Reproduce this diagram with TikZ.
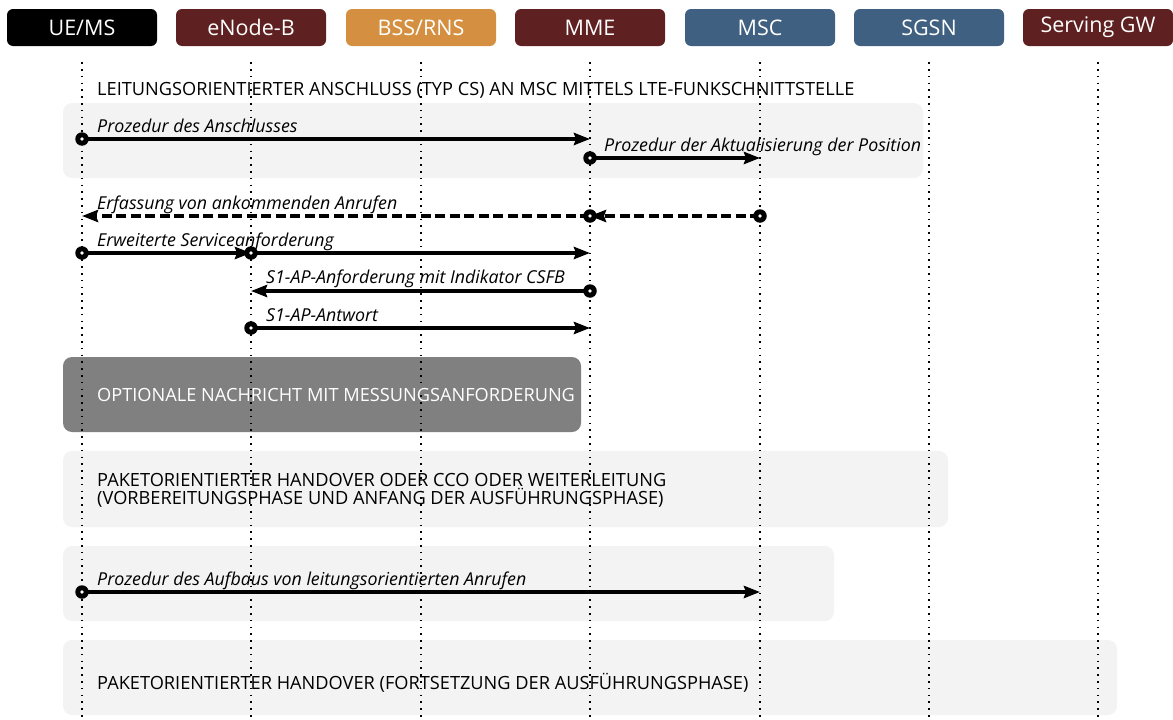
\documentclass[tikz,border=0pt]{standalone}
\usepackage{fontspec}
\setmainfont{Open Sans}
\usetikzlibrary{arrows.meta}
\definecolor{hdrblack}{RGB}{0,0,0}
\definecolor{hdrred}{RGB}{94,32,32}
\definecolor{hdrorange}{RGB}{212,144,64}
\definecolor{hdrblue}{RGB}{63,96,128}
\definecolor{panellight}{RGB}{243,243,243}
\definecolor{paneldark}{RGB}{128,128,128}
\tikzset{
  hdr/.style={draw=none, rounded corners=6pt, minimum width=150pt, minimum height=37pt,
    inner sep=0pt, text=white, font=\fontsize{21.5}{24}\selectfont},
  panel/.style={fill=panellight, rounded corners=9pt},
  darkpanel/.style={fill=paneldark, rounded corners=9pt},
  lifeline/.style={line width=1.6pt, dash pattern=on 1.6pt off 5.2pt, black},
  msg/.style={line width=3.8pt, -{Stealth[length=16pt,width=12pt,inset=2pt]}},
  dmsg/.style={msg, dash pattern=on 10pt off 4.5pt},
  lbl/.style={anchor=base west, inner sep=0pt, font=\fontsize{17.8}{20}\selectfont\itshape},
  caps/.style={anchor=base west, inner sep=0pt, font=\fontsize{18.2}{21}\selectfont, align=left},
  startdot/.style={circle, fill=black, minimum size=13.5pt, inner sep=0pt,
    path picture={\fill[white] (path picture bounding box.center) circle (1.9pt);}}
}
\begin{document}
\begin{tikzpicture}[x=1pt,y=-1pt]
\useasboundingbox (0,0) rectangle (1173,720);
% headers
\node[hdr, fill=hdrblack]  (ue)  at (82,27.5)   {UE/MS};
\node[hdr, fill=hdrred]    (enb) at (251,27.5)  {eNode-B};
\node[hdr, fill=hdrorange] (bss) at (421,27.5)  {BSS/RNS};
\node[hdr, fill=hdrred]    (mme) at (590,27.5)  {MME};
\node[hdr, fill=hdrblue]   (msc) at (760,27.5)  {MSC};
\node[hdr, fill=hdrblue]   (sgsn) at (929,27.5) {SGSN};
\node[hdr, fill=hdrred]    (sgw) at (1098,27.5) {Serving GW};
% panels
\fill[panel] (63,103) rectangle (923,178);
\fill[darkpanel] (63,357) rectangle (581,432);
\fill[panel] (63,451) rectangle (948,527);
\fill[panel] (63,546) rectangle (834,621);
\fill[panel] (63,640) rectangle (1117,715);
% lifelines
\foreach \n in {ue,enb,bss,mme,msc,sgsn,sgw}{
  \coordinate (\n-top) at ([yshift=-16pt]\n.south);
  \coordinate (\n-bot) at (\n.south |- 0,720);
  \draw[lifeline] (\n-top) -- (\n-bot);
}
% message anchor coordinates
\foreach \n in {ue,enb,mme,msc}{
  \coordinate (\n-a) at (\n |- 0,139);
  \coordinate (\n-b) at (\n |- 0,158);
  \coordinate (\n-c) at (\n |- 0,216);
  \coordinate (\n-d) at (\n |- 0,253);
  \coordinate (\n-e) at (\n |- 0,291);
  \coordinate (\n-f) at (\n |- 0,328);
  \coordinate (\n-g) at (\n |- 0,592);
}
% texts
\node[caps] (t1) at (97,95.5) {LEITUNGSORIENTIERTER ANSCHLUSS (TYP CS) AN MSC MITTELS LTE-FUNKSCHNITTSTELLE};
\node[caps, text=white] (t2) at (97,401.5) {OPTIONALE NACHRICHT MIT MESSUNGSANFORDERUNG};
\node[caps] (t3) at (97,486.5) {PAKETORIENTIERTER HANDOVER ODER CCO ODER WEITERLEITUNG};
\node[caps] (t4) at (97,504.5) {(VORBEREITUNGSPHASE UND ANFANG DER AUSFÜHRUNGSPHASE)};
\node[caps] (t5) at (97,689.5) {PAKETORIENTIERTER HANDOVER (FORTSETZUNG DER AUSFÜHRUNGSPHASE)};
% messages
\draw[msg] (ue-a) -- (mme-a);
\node[startdot] (s1) at (ue-a) {};
\node[lbl] (l1) at (97,132.5) {Prozedur des Anschlusses};

\draw[msg] (mme-b) -- (msc-b);
\node[startdot] (s2) at (mme-b) {};
\node[lbl] (l2) at (604,151.5) {Prozedur der Aktualisierung der Position};

\draw[dmsg] (msc-c) -- (mme-c);
\draw[dmsg] (mme-c) -- (ue-c);
\node[startdot] (s3) at (msc-c) {};
\node[startdot] (s4) at (mme-c) {};
\node[lbl] (l3) at (97,209.5) {Erfassung von ankommenden Anrufen};

\draw[msg] (ue-d) -- (enb-d);
\draw[msg] (enb-d) -- (mme-d);
\node[startdot] (s5) at (ue-d) {};
\node[startdot] (s6) at (enb-d) {};
\node[lbl] (l4) at (97,246.5) {Erweiterte Serviceanforderung};

\draw[msg] (mme-e) -- (enb-e);
\node[startdot] (s7) at (mme-e) {};
\node[lbl] (l5) at (266,283.5) {S1-AP-Anforderung mit Indikator CSFB};

\draw[msg] (enb-f) -- (mme-f);
\node[startdot] (s8) at (enb-f) {};
\node[lbl] (l6) at (266,321.5) {S1-AP-Antwort};

\draw[msg] (ue-g) -- (msc-g);
\node[startdot] (s9) at (ue-g) {};
\node[lbl] (l7) at (97,585.5) {Prozedur des Aufbaus von leitungsorientierten Anrufen};
\end{tikzpicture}
\end{document}
